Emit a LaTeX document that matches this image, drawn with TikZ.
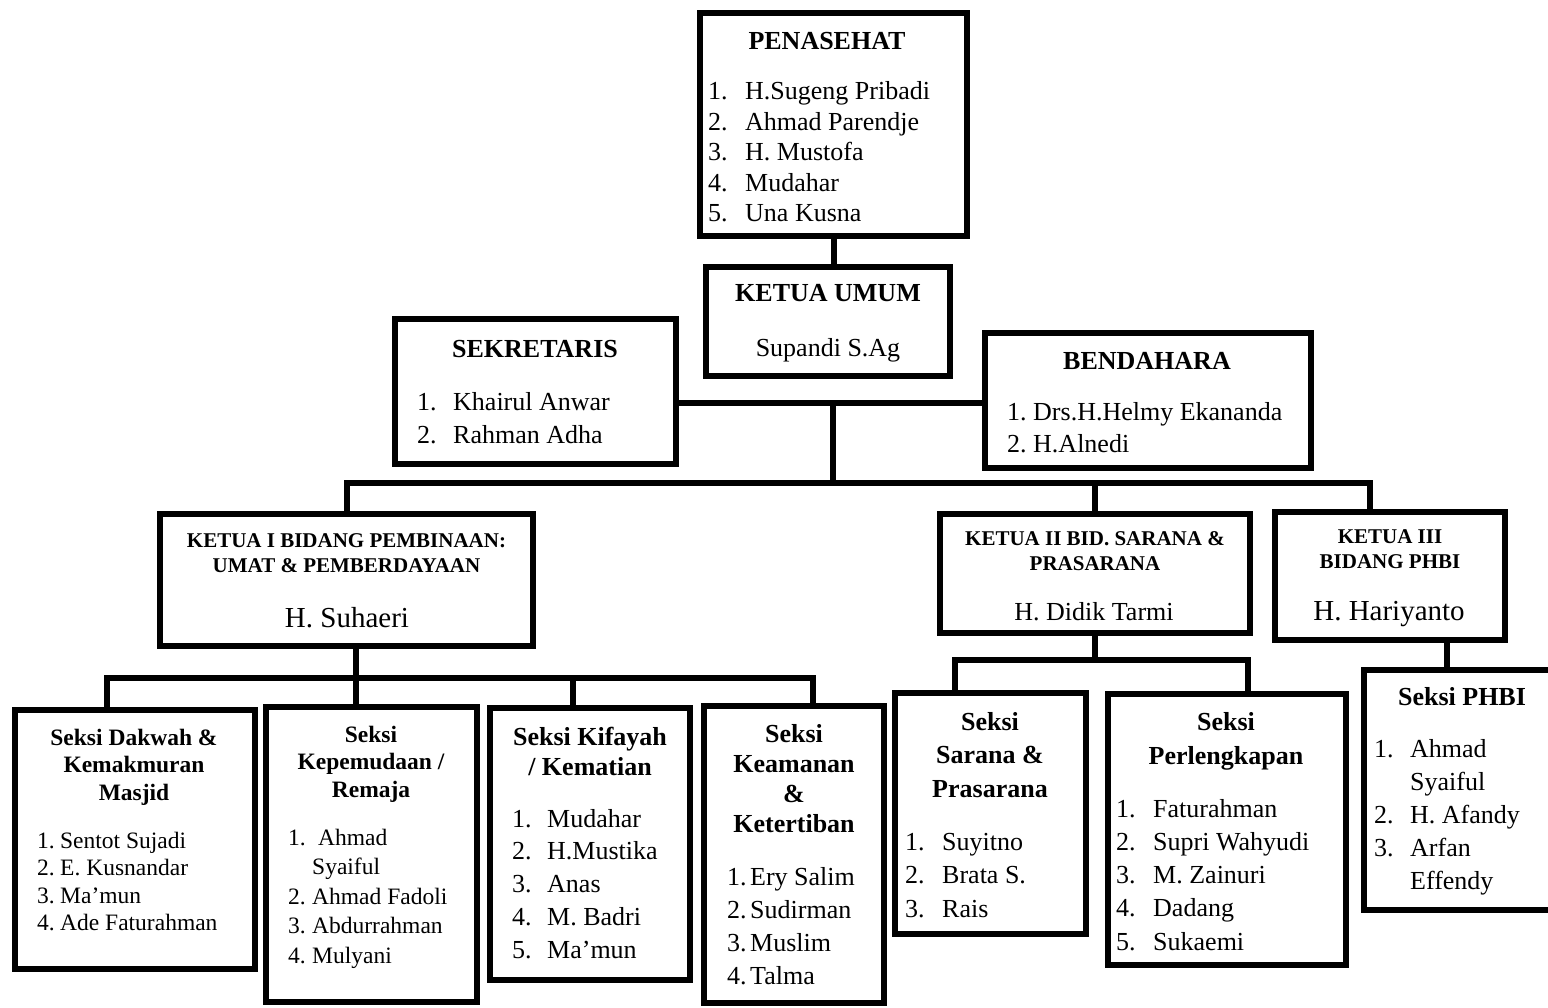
\documentclass[tikz,border=0pt]{standalone}
\usepackage{fontspec}
\setmainfont{Liberation Serif}
\usetikzlibrary{fit}
\newcommand{\fsz}[2]{\fontsize{#1}{#2}\selectfont}
\newcommand{\headlines}[1]{\begin{tabular}[t]{@{}c@{}}#1\end{tabular}}

\begin{document}
\begin{tikzpicture}[x=1pt,y=-1pt,
  unitbox/.style={draw,line width=6pt,inner sep=0pt,outer sep=0pt},
  link/.style={line width=6pt},
  head/.style={anchor=base,inner sep=0pt,font=\bfseries\fsz{26}{30}},
  who/.style={anchor=base,inner sep=0pt,font=\fsz{26}{30}},
  itm/.style={anchor=base west,inner sep=0pt,font=\fsz{26}{30}}]
\useasboundingbox (0,0) rectangle (1548,1008);
\clip (0,0) rectangle (1548,1008);
\fill[white] (0,0) rectangle (1548,1008);

% boxes
\node[unitbox,fit={(700,13) (967,236)}] (pen) {};
\node[unitbox,fit={(706,267) (950,376)}] (ketum) {};
\node[unitbox,fit={(395,319) (676,464)}] (sek) {};
\node[unitbox,fit={(985,333) (1311,468)}] (bend) {};
\node[unitbox,fit={(160,514) (533,646)}] (k1) {};
\node[unitbox,fit={(940,514) (1250,633)}] (k2) {};
\node[unitbox,fit={(1275,512) (1505,640)}] (k3) {};
\node[unitbox,fit={(15,710) (255,969)}] (dakwah) {};
\node[unitbox,fit={(266,707) (477,1002)}] (remaja) {};
\node[unitbox,fit={(490,708) (690,980)}] (kifayah) {};
\node[unitbox,fit={(704,706) (884,1003)}] (aman) {};
\node[unitbox,fit={(895,693) (1086,934)}] (sarana) {};
\node[unitbox,fit={(1108,694) (1346,965)}] (alat) {};
\node[unitbox,fit={(1364,670) (1560,910)}] (phbi) {};

% connectors
\coordinate (hub) at (833,403);
\coordinate (bus) at (833,483);
\coordinate (k3in) at (1370,483);
\draw[link] (pen.south) -- (pen.south |- ketum.north);
\draw[link] (hub -| sek.east) -- (hub -| bend.west);
\draw[link] (hub) -- (bus);
\draw[link] (k1.north) |- (k3in) -- (k3in |- k3.north);
\draw[link] (k2.north) -- (k2.north |- bus);

\coordinate (j1) at (107,678);
\coordinate (j2) at (356,678);
\coordinate (j3) at (573,678);
\coordinate (j4) at (813,678);
\draw[link] (j1 |- dakwah.north) |- (j4) -- (j4 |- aman.north);
\draw[link] (k1.south -| j2) -- (j2 |- remaja.north);
\draw[link] (j3) -- (j3 |- kifayah.north);

\coordinate (j5) at (955,660);
\coordinate (j6) at (1248,660);
\draw[link] (j5 |- sarana.north) |- (j6) -- (j6 |- alat.north);
\draw[link] (k2.south) -- (k2.south |- j5);

\coordinate (j7) at (1447,655);
\draw[link] (k3.south -| j7) -- (j7 |- phbi.north);

% top
\node[head] (pen-t) at (827,50) {PENASEHAT};
\foreach \n/\t [count=\i from 0] in {1./H.Sugeng Pribadi,2./Ahmad Parendje,3./H. Mustofa,4./Mudahar,5./Una Kusna}
  \node[itm] (pen-\i) at (708,100+30.5*\i) {\makebox[37pt][l]{\n}\t};

\node[head] (ketum-t) at (828,302) {KETUA UMUM};
\node[who] (ketum-n) at (828,357) {Supandi S.Ag};

\node[head] (sek-t) at (535,358) {SEKRETARIS};
\foreach \n/\t [count=\i from 0] in {1./Khairul Anwar,2./Rahman Adha}
  \node[itm] (sek-\i) at (417,410+33*\i) {\makebox[36pt][l]{\n}\t};

\node[head] (bend-t) at (1147,370) {BENDAHARA};
\foreach \n/\t [count=\i from 0] in {1./Drs.H.Helmy Ekananda,2./H.Alnedi}
  \node[itm] (bend-\i) at (1007,420+32*\i) {\makebox[26pt][l]{\n}\t};

% ketua rows
\node[head,font=\bfseries\fsz{21}{25}] (k1-t) at (346.5,547) {\headlines{KETUA I BIDANG PEMBINAAN:\\UMAT \& PEMBERDAYAAN}};
\node[who,font=\fsz{29}{33}] (k1-n) at (347,627) {H. Suhaeri};

\node[head,font=\bfseries\fsz{21}{25}] (k2-t) at (1095,545) {\headlines{KETUA II BID. SARANA \&\\PRASARANA}};
\node[who] (k2-n) at (1094,620) {H. Didik Tarmi};

\node[head,font=\bfseries\fsz{21}{25}] (k3-t) at (1390,543) {\headlines{KETUA III\\BIDANG PHBI}};
\node[who,font=\fsz{29}{33}] (k3-n) at (1389,620) {H. Hariyanto};

% seksi
\node[head,font=\bfseries\fsz{23.5}{27.5}] (dakwah-t) at (134,745) {\headlines{Seksi Dakwah \&\\Kemakmuran\\Masjid}};
\foreach \n/\t [count=\i from 0] in {1./Sentot Sujadi,2./E. Kusnandar,3./Ma’mun,4./Ade Faturahman}
  \node[itm,font=\fsz{23.5}{27.5}] (dakwah-\i) at (37,848+27.5*\i) {\makebox[23pt][l]{\n}\t};

\node[head,font=\bfseries\fsz{23.5}{27.5}] (remaja-t) at (371,742) {\headlines{Seksi\\Kepemudaan /\\Remaja}};
\foreach \n/\t [count=\i from 0] in {1./\hspace{6pt}Ahmad,/Syaiful,2./Ahmad Fadoli,3./Abdurrahman,4./Mulyani}
  \node[itm,font=\fsz{23.5}{27.5}] (remaja-\i) at (288,845+29.5*\i) {\makebox[24pt][l]{\n}\t};

\node[head] (kifayah-t) at (590,745) {\headlines{Seksi Kifayah\\/ Kematian}};
\foreach \n/\t [count=\i from 0] in {1./Mudahar,2./H.Mustika,3./Anas,4./M. Badri,5./Ma’mun}
  \node[itm] (kifayah-\i) at (512,827+32.75*\i) {\makebox[35pt][l]{\n}\t};

\node[head,font=\bfseries\fsz{26}{30.3}] (aman-t) at (794,742) {\headlines{Seksi\\Keamanan\\\&\\Ketertiban}};
\foreach \n/\t [count=\i from 0] in {1./Ery Salim,2./Sudirman,3./Muslim,4./Talma}
  \node[itm] (aman-\i) at (727,885+33.3*\i) {\makebox[23pt][l]{\n}\t};

\node[head,font=\bfseries\fsz{26}{33.5}] (sarana-t) at (990,730) {\headlines{Seksi\\Sarana \&\\Prasarana}};
\foreach \n/\t [count=\i from 0] in {1./Suyitno,2./Brata S.,3./Rais}
  \node[itm] (sarana-\i) at (905,850+33.5*\i) {\makebox[37pt][l]{\n}\t};

\node[head,font=\bfseries\fsz{26}{34}] (alat-t) at (1226,730) {\headlines{Seksi\\Perlengkapan}};
\foreach \n/\t [count=\i from 0] in {1./Faturahman,2./Supri Wahyudi,3./M. Zainuri,4./Dadang,5./Sukaemi}
  \node[itm] (alat-\i) at (1116,817+33.25*\i) {\makebox[37pt][l]{\n}\t};

\node[head] (phbi-t) at (1462,705) {Seksi PHBI};
\foreach \n/\t [count=\i from 0] in {1./Ahmad,/Syaiful,2./H. Afandy,3./Arfan,/Effendy}
  \node[itm] (phbi-\i) at (1374,757+33*\i) {\makebox[36pt][l]{\n}\t};
\end{tikzpicture}
\end{document}
